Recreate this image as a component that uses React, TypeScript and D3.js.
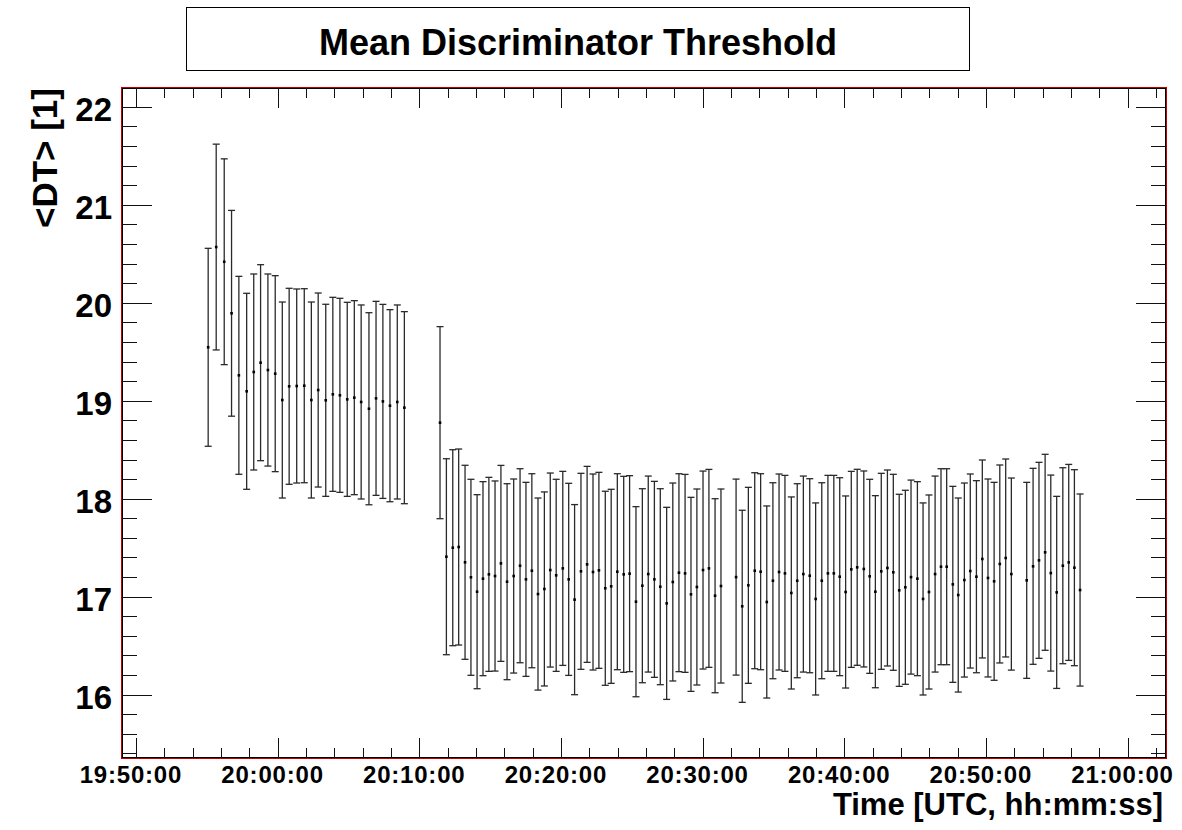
import React from "react";
import * as d3 from "d3";

// Measurement timestamps (UTC, hh:mm:ss)
const times: string[] = [
  "19:55:06","19:55:40","19:56:14","19:56:45","19:57:16","19:57:49","19:58:19","19:58:48","19:59:19","19:59:50",
  "20:00:20","20:00:49","20:01:21","20:01:53","20:02:23","20:02:52","20:03:24","20:03:54","20:04:24","20:04:55",
  "20:05:25","20:05:54","20:06:27","20:06:57","20:07:26","20:07:56","20:08:27","20:08:57",
  "20:11:28","20:11:55","20:12:22","20:12:47","20:13:14","20:13:39","20:14:05","20:14:30","20:14:55","20:15:21",
  "20:15:46","20:16:12","20:16:40","20:17:07","20:17:32","20:17:57","20:18:23","20:18:50","20:19:15","20:19:40",
  "20:20:08","20:20:33","20:20:58","20:21:25","20:21:51","20:22:16","20:22:41","20:23:08","20:23:33","20:23:59",
  "20:24:26","20:24:51","20:25:18","20:25:45","20:26:10","20:26:36","20:27:01","20:27:28","20:27:54","20:28:20",
  "20:28:46","20:29:11","20:29:36","20:30:02","20:30:27","20:30:53","20:31:18",
  "20:32:22","20:32:48","20:33:14","20:33:41","20:34:06","20:34:32","20:34:58","20:35:24","20:35:49","20:36:16",
  "20:36:41","20:37:07","20:37:34","20:37:59","20:38:25","20:38:51","20:39:16","20:39:41","20:40:06","20:40:30",
  "20:40:55","20:41:23","20:41:48","20:42:12","20:42:37","20:43:03","20:43:28","20:43:53","20:44:19","20:44:43",
  "20:45:10","20:45:34","20:45:59","20:46:25","20:46:50","20:47:14","20:47:40","20:48:03","20:48:29","20:48:54",
  "20:49:20","20:49:45","20:50:09","20:50:35","20:50:59","20:51:24","20:51:48",
  "20:52:53","20:53:20","20:53:45","20:54:11","20:54:35","20:55:00","20:55:26","20:55:51","20:56:15","20:56:39",
];

// Mean discriminator threshold <DT>
const meanDT: number[] = [
  19.545, 20.568, 20.418, 19.892, 19.259, 19.096, 19.293, 19.388, 19.313, 19.276,
  19.007, 19.147, 19.150, 19.153, 19.007, 19.109, 19.004, 19.065, 19.055, 19.014,
  19.031, 18.987, 18.918, 19.024, 18.993, 18.949, 18.987, 18.929,
  18.776, 17.408, 17.500, 17.507, 17.351, 17.198, 17.051, 17.184, 17.228, 17.211,
  17.340, 17.153, 17.211, 17.316, 17.177, 17.265, 17.027, 17.079, 17.272, 17.218,
  17.289, 17.177, 16.970, 17.259, 17.330, 17.252, 17.269, 17.086, 17.106, 17.255,
  17.228, 17.235, 16.949, 17.112, 17.231, 17.177, 17.102, 16.932, 17.150, 17.245,
  17.238, 17.024, 17.099, 17.272, 17.289, 17.010, 17.109,
  17.200, 16.902, 17.116, 17.265, 17.255, 16.946, 17.163, 17.252, 17.238, 17.038,
  17.163, 17.231, 17.214, 16.977, 17.163, 17.238, 17.238, 17.204, 17.048, 17.279,
  17.300, 17.283, 17.208, 17.051, 17.259, 17.293, 17.249, 17.065, 17.096, 17.200,
  17.184, 16.977, 17.048, 17.231, 17.306, 17.306, 17.126, 17.017, 17.170, 17.262,
  17.204, 17.385, 17.191, 17.157, 17.334, 17.395, 17.231,
  17.167, 17.310, 17.371, 17.453, 17.241, 17.044, 17.316, 17.350, 17.296, 17.068,
];

// Uncertainty of <DT>
const errDT: number[] = [
  1.01, 1.05, 1.05, 1.05, 1.01, 1.00, 1.00, 1.00, 0.98, 1.00,
  1.00, 1.00, 0.99, 0.99, 1.00, 0.99, 0.98, 0.99, 0.99, 0.99,
  0.99, 0.99, 0.98, 0.99, 0.99, 0.98, 0.99, 0.98,
  0.98, 1.00, 1.00, 1.00, 0.99, 1.00, 0.99, 0.99, 0.99, 0.97,
  1.00, 1.00, 0.99, 0.99, 0.99, 0.99, 0.98, 0.99, 0.99, 0.98,
  0.99, 0.98, 0.97, 1.00, 1.00, 1.00, 1.00, 0.99, 0.99, 1.00,
  1.00, 1.00, 0.97, 0.99, 1.00, 1.00, 1.00, 0.98, 1.01, 1.01,
  1.01, 0.99, 1.00, 1.01, 1.01, 0.99, 0.99,
  1.00, 0.98, 1.00, 1.00, 1.00, 0.98, 1.00, 1.00, 1.00, 0.98,
  0.99, 1.00, 0.99, 0.98, 1.00, 1.00, 1.00, 1.01, 0.98, 1.00,
  1.00, 1.00, 0.99, 0.98, 1.00, 1.00, 1.00, 0.98, 0.99, 0.99,
  0.99, 0.98, 0.99, 1.00, 1.00, 1.00, 1.00, 0.99, 0.99, 0.99,
  0.98, 1.01, 1.01, 1.01, 1.01, 1.01, 0.98,
  1.00, 1.00, 1.00, 1.00, 1.00, 0.98, 1.00, 1.00, 1.00, 0.98,
];

// Axis ranges and tick labels
const xRange: string[] = ["19:49:01", "21:02:43"];
const yRange: number[] = [15.354, 22.191];
const xTickLabels: string[] = ["19:50:00","20:00:00","20:10:00","20:20:00","20:30:00","20:40:00","20:50:00","21:00:00"];
const yTickLabels: number[] = [16, 17, 18, 19, 20, 21, 22];

const TITLE = "Mean Discriminator Threshold";
const X_TITLE = "Time [UTC, hh:mm:ss]";
const Y_TITLE = "<DT> [1]";

const toSec = (s: string) => {
  const [h, m, sec] = s.split(":").map(Number);
  return h * 3600 + m * 60 + sec;
};

const W = 1182;
const H = 830;
const L = 122, R = 1166, T = 88, B = 758;
const FONT = "'Liberation Sans', Arial, Helvetica, sans-serif";

export default function App() {
  const x = d3.scaleLinear().domain(xRange.map(toSec)).range([L, R]);
  const y = d3.scaleLinear().domain(yRange).range([B, T]);

  const majorX = xTickLabels.map(toSec);
  const [x0, x1] = x.domain();
  const minorX = d3.range(Math.ceil(x0 / 120) * 120, x1, 120).filter((s) => s % 600 !== 0);
  const [y0, y1] = y.domain();
  const minorY = d3.range(Math.ceil(y0 / 0.2 - 1e-6), Math.floor(y1 / 0.2 + 1e-6) + 1)
    .map((k) => +(k * 0.2).toFixed(2))
    .filter((v) => Math.abs(v - Math.round(v)) > 1e-6);

  const pts = times.map((t, i) => ({ t: toSec(t), v: meanDT[i], e: errDT[i] }));
  const cap = 3.5;

  return (
    <div style={{ position: "absolute", left: 0, top: 0 }}>
      <svg width={W} height={H} style={{ display: "block", background: "#fff" }} fontFamily={FONT}>
        <rect x={0} y={0} width={W} height={H} fill="#fff" />
        {/* title box */}
        <rect x={186.5} y={7.5} width={783} height={63} fill="#fff" stroke="#000" strokeWidth={1} />
        <text x={578} y={55} textAnchor="middle" fontSize={36} fontWeight="bold" fill="#000">{TITLE}</text>

        {/* frame */}
        <rect x={121.5} y={87.5} width={R - L + 1} height={B - T + 1} fill="none" stroke="#c00000" strokeWidth={1} />
        <rect x={L + 0.5} y={T + 0.5} width={R - L - 1} height={B - T - 1} fill="none" stroke="#000" strokeWidth={1} />

        {/* x ticks, bottom and top; y ticks, left and right */}
        <g stroke="#111" strokeWidth={1}>
          {majorX.map((s) => {
            const px = Math.round(x(s)) + 0.5;
            return (
              <g key={"mx" + s}>
                <line x1={px} x2={px} y1={B} y2={B - 20} />
                <line x1={px} x2={px} y1={T} y2={T + 20} />
              </g>
            );
          })}
          {minorX.map((s) => {
            const px = Math.round(x(s)) + 0.5;
            return (
              <g key={"nx" + s}>
                <line x1={px} x2={px} y1={B} y2={B - 10} />
                <line x1={px} x2={px} y1={T} y2={T + 10} />
              </g>
            );
          })}
          {yTickLabels.map((v) => {
            const py = Math.round(y(v)) + 0.5;
            return (
              <g key={"my" + v}>
                <line x1={L} x2={L + 30} y1={py} y2={py} />
                <line x1={R} x2={R - 30} y1={py} y2={py} />
              </g>
            );
          })}
          {minorY.map((v) => {
            const py = Math.round(y(v)) + 0.5;
            return (
              <g key={"ny" + v}>
                <line x1={L} x2={L + 15} y1={py} y2={py} />
                <line x1={R} x2={R - 15} y1={py} y2={py} />
              </g>
            );
          })}
        </g>

        {/* tick labels */}
        <g fontWeight="bold" fill="#000">
          {xTickLabels.map((lab) => (
            <text key={"lx" + lab} x={x(toSec(lab)) - 5} y={783} textAnchor="middle" fontSize={24} letterSpacing={0.8}>
              {lab}
            </text>
          ))}
          {yTickLabels.map((v) => (
            <text key={"ly" + v} x={112} y={y(v) + 14} textAnchor="end" fontSize={33}>
              {v}
            </text>
          ))}
        </g>

        {/* axis titles */}
        <text x={1163} y={815} textAnchor="end" fontSize={31} fontWeight="bold">{X_TITLE}</text>
        <text transform={`translate(57, ${T}) rotate(-90)`} textAnchor="end" fontSize={35} fontWeight="bold">{Y_TITLE}</text>

        {/* error bars and markers */}
        <g stroke="#2a2a2a" strokeWidth={1.3}>
          {pts.map((p, i) => {
            const px = x(p.t);
            const yt = y(p.v + p.e);
            const yb = y(p.v - p.e);
            return (
              <g key={"e" + i}>
                <line x1={px} x2={px} y1={yt} y2={yb} />
                <line x1={px - cap} x2={px + cap} y1={yt} y2={yt} />
                <line x1={px - cap} x2={px + cap} y1={yb} y2={yb} />
              </g>
            );
          })}
        </g>
        <g fill="#000">
          {pts.map((p, i) => (
            <rect key={"p" + i} x={x(p.t) - 1.3} y={y(p.v) - 1.3} width={2.6} height={2.6} />
          ))}
        </g>
      </svg>
    </div>
  );
}
